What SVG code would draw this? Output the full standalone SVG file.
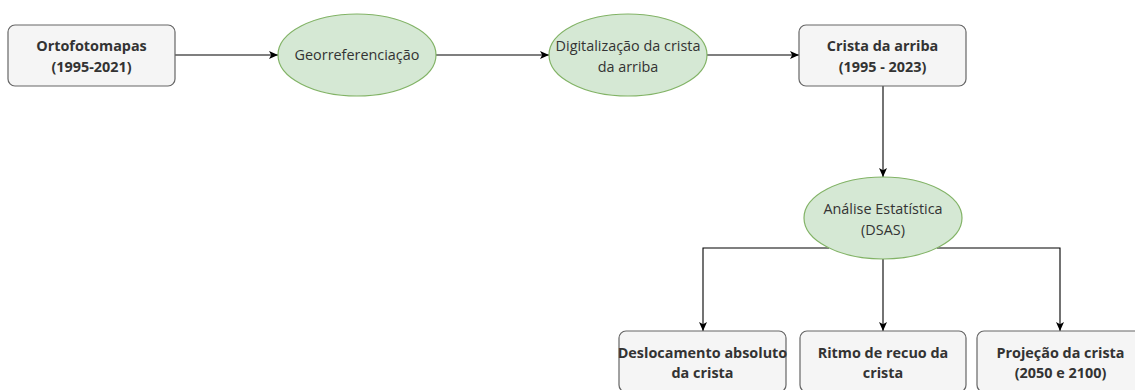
<svg xmlns="http://www.w3.org/2000/svg" width="1135" height="390" viewBox="0 0 1135 390">
<style>
  .box { fill: #f5f5f5; stroke: #666666; stroke-width: 1.2; }
  .ell { fill: #d5e8d4; stroke: #82b366; stroke-width: 1.2; }
  .t { font-family: "Open Sans", "Noto Sans", sans-serif; font-size: 14.4px; fill: #333333; text-anchor: middle; }
  .b { font-weight: bold; }
  .edge { fill: none; stroke: #000000; stroke-width: 1.1; }
</style>
<defs>
  <marker id="arr" markerUnits="userSpaceOnUse" markerWidth="10" markerHeight="10" refX="9" refY="4.5" orient="auto">
    <path d="M0,0.5 L9,4.5 L0,8.5 L2.2,4.5 Z" fill="#000000"/>
  </marker>
</defs>
<rect width="1135" height="390" fill="#ffffff"/>
<g id="connectors">
  <path class="edge" d="M175,55 H278" marker-end="url(#arr)"/>
  <path class="edge" d="M436,55 H549" marker-end="url(#arr)"/>
  <path class="edge" d="M707,55 H799" marker-end="url(#arr)"/>
  <path class="edge" d="M883,86 V177" marker-end="url(#arr)"/>
  <path class="edge" d="M829,248 H703 V331" marker-end="url(#arr)"/>
  <path class="edge" d="M883,259 V331" marker-end="url(#arr)"/>
  <path class="edge" d="M937,248 H1060 V331" marker-end="url(#arr)"/>
</g>
<g id="ortofotomapas">
  <rect class="box" x="8" y="25" width="167" height="61" rx="7"/>
  <text class="t b" x="91.5" y="51">Ortofotomapas</text>
  <text class="t b" x="91.5" y="72">(1995-2021)</text>
</g>
<g id="georreferenciacao">
  <ellipse class="ell" cx="357" cy="55" rx="79" ry="41"/>
  <text class="t" x="357" y="60">Georreferenciação</text>
</g>
<g id="digitalizacao">
  <ellipse class="ell" cx="628" cy="55" rx="79" ry="41"/>
  <text class="t" x="628" y="51">Digitalização da crista</text>
  <text class="t" x="628" y="72">da arriba</text>
</g>
<g id="crista">
  <rect class="box" x="799" y="25" width="167" height="61" rx="7"/>
  <text class="t b" x="882.5" y="51">Crista da arriba</text>
  <text class="t b" x="882.5" y="72">(1995 - 2023)</text>
</g>
<g id="analise">
  <ellipse class="ell" cx="883" cy="218" rx="79" ry="41"/>
  <text class="t" x="883" y="214">Análise Estatística</text>
  <text class="t" x="883" y="235">(DSAS)</text>
</g>
<g id="deslocamento">
  <rect class="box" x="619" y="331" width="167" height="61" rx="7"/>
  <text class="t b" x="702.5" y="357.5">Deslocamento absoluto</text>
  <text class="t b" x="702.5" y="378">da crista</text>
</g>
<g id="ritmo">
  <rect class="box" x="800" y="331" width="166" height="61" rx="7"/>
  <text class="t b" x="883" y="357.5">Ritmo de recuo da</text>
  <text class="t b" x="883" y="378">crista</text>
</g>
<g id="projecao">
  <rect class="box" x="977" y="331" width="167" height="61" rx="7"/>
  <text class="t b" x="1060.5" y="357.5">Projeção da crista</text>
  <text class="t b" x="1060.5" y="378">(2050 e 2100)</text>
</g>
</svg>
